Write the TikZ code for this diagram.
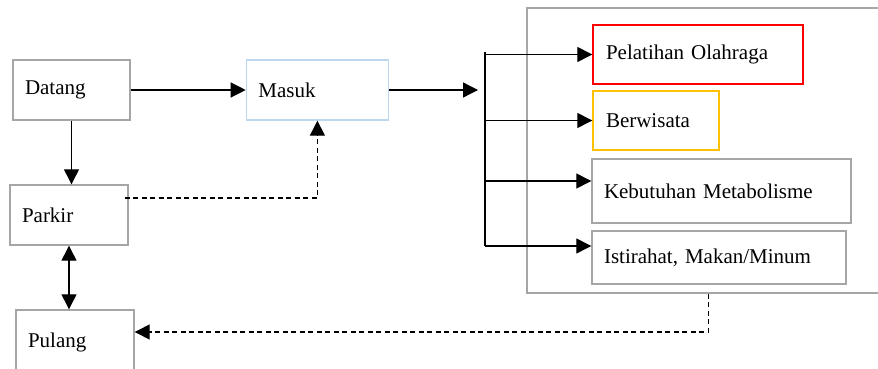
\documentclass[tikz,border=0pt]{standalone}
\usepackage{fontspec}
\setmainfont{Liberation Serif}
\usepackage{xcolor}
\usepackage{tikz}
\usetikzlibrary{positioning,arrows.meta}
\definecolor{garis}{RGB}{166,166,166}
\definecolor{biru}{RGB}{189,215,238}
\definecolor{merah}{RGB}{255,0,0}
\definecolor{jingga}{RGB}{255,192,0}

\begin{document}
\begin{tikzpicture}[x=1pt, y=-1pt,
		kotak/.style={draw=garis, line width=1.4pt, align=left, inner xsep=12pt,
			inner ysep=0pt, font=\fontsize{21}{25}\selectfont},
		panah/.style={-{Triangle[length=15pt, width=15pt]}, line width=1.3pt},
		putus/.style={line width=1.3pt, dash pattern=on 5pt off 3.5pt}]
		\useasboundingbox (0,0) rectangle (878,369);
		\node[kotak, text width=93pt, minimum height=60pt] (datang) at (71.5,90) {Datang};
		\node[kotak, draw=biru, text width=118pt, minimum height=60pt, right=115pt of datang] (masuk) {Masuk};
		\node[kotak, text width=94pt, minimum height=60pt] (parkir) at (69,215) {Parkir};
		\node[kotak, text width=94pt, minimum height=64pt] (pulang) at (75,342) {Pulang};
		\node[draw=garis, line width=1.4pt, minimum width=363pt, minimum height=285pt] (wadah) at (708.5,150.5) {};
		\node[kotak, draw=merah, text width=184pt, minimum height=59pt, inner xsep=13pt] (pelatihan) at (698,54.5) {Pelatihan Olahraga};
		\node[kotak, draw=jingga, text width=100pt, minimum height=59pt, inner xsep=13pt] (berwisata) at (656,120.5) {Berwisata};
		\node[kotak, text width=235pt, minimum height=64pt] (kebutuhan) at (721.5,191) {Kebutuhan Metabolisme};
		\node[kotak, text width=230pt, minimum height=53pt] (istirahat) at (719,257.5) {Istirahat, Makan/Minum};
		\coordinate (ujung) at (478,90);
		\coordinate (atas) at (485,52);
		\coordinate (bawah) at (485,246);
		\draw[panah] (datang) -- (masuk);
		\draw[panah] (datang.south) -- (datang.south |- parkir.north);
		\draw[{Triangle[length=15pt, width=15pt]}-{Triangle[length=15pt, width=15pt]}, line width=1.3pt]
			(parkir.south) -- (parkir.south |- pulang.north);
		\draw[putus, -{Triangle[length=15pt, width=15pt]}] ([xshift=-4pt, yshift=17pt]parkir.east) -| (masuk.south);
		\draw[panah] (masuk.east) -- (ujung);
		\draw[line width=1.3pt] (atas) -- (bawah);
		\draw[panah] (atas |- pelatihan.west) -- (pelatihan.west);
		\draw[panah] (atas |- berwisata.west) -- (berwisata.west);
		\draw[panah] (atas |- 0,181) -- ([yshift=10pt]kebutuhan.west);
		\draw[panah] (bawah) -- ([yshift=11.5pt]istirahat.west);
		\draw[putus, -{Triangle[length=15pt, width=15pt]}] (wadah.south) |- ([yshift=10pt]pulang.east);
	\end{tikzpicture}
\end{document}
